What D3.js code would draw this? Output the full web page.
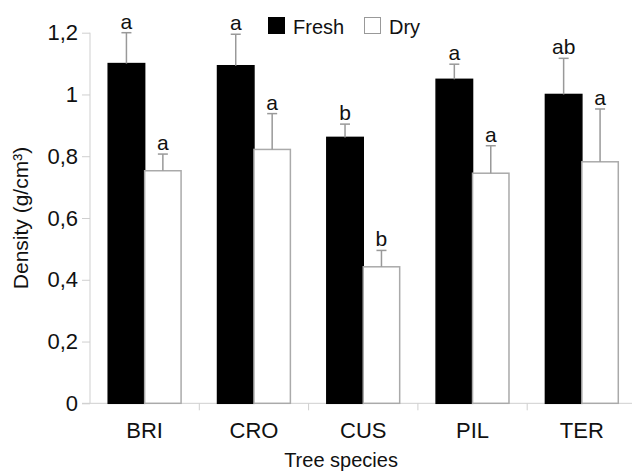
<!DOCTYPE html>
<html>
<head>
<meta charset="utf-8">
<script src="https://cdn.jsdelivr.net/npm/d3@7"></script>
<style>
  body { margin: 0; background: #fff; }
  text { font-family: "Liberation Sans", Arial, sans-serif; fill: #111; }
</style>
</head>
<body>
<div id="chart"></div>
<script>

// Data
var species = ["BRI", "CRO", "CUS", "PIL", "TER"];
var treatments = ["Fresh", "Dry"];
var freshMean = [1.10, 1.093, 0.861, 1.049, 1.00];
var freshErr  = [0.10, 0.102, 0.043, 0.049, 0.117];
var dryMean   = [0.753, 0.822, 0.442, 0.745, 0.782];
var dryErr    = [0.054, 0.116, 0.053, 0.089, 0.171];
var freshLetters = ["a", "a", "b", "a", "ab"];
var dryLetters   = ["a", "a", "b", "a", "a"];
var yTicks = [0, 0.2, 0.4, 0.6, 0.8, 1, 1.2];

var width = 632, height = 473;
var margin = { top: 32.7, left: 90, bottom: 69.7 };
var step = 109.3;

var svg = d3.select("#chart").append("svg")
    .attr("width", width)
    .attr("height", height);

// Scales
var x = d3.scaleBand()
    .domain(species)
    .range([margin.left, margin.left + step * species.length])
    .padding(0);

var x1 = d3.scaleBand()
    .domain(treatments)
    .range([0, x.bandwidth()])
    .paddingInner(0)
    .paddingOuter(0.5);

var y = d3.scaleLinear()
    .domain([0, 1.2])
    .range([height - margin.bottom, margin.top]);

var commaFormat = d3.formatLocale({ decimal: ",", thousands: ".", grouping: [3], currency: ["", ""] }).format("~g");

// Build rows
var rows = [];
species.forEach(function (s, i) {
    rows.push({ sp: s, t: "Fresh", v: freshMean[i], e: freshErr[i], l: freshLetters[i] });
    rows.push({ sp: s, t: "Dry", v: dryMean[i], e: dryErr[i], l: dryLetters[i] });
});

// Y axis
var yAxis = d3.axisLeft(y)
    .tickValues(yTicks)
    .tickFormat(commaFormat)
    .tickSize(8)
    .tickPadding(4);

var gy = svg.append("g")
    .attr("transform", "translate(" + margin.left + ",0)")
    .call(yAxis);
gy.select(".domain").attr("stroke", "#cfcfcf").attr("d", "M0," + y(0) + "V" + y(1.2));
gy.selectAll(".tick line").attr("stroke", "#cfcfcf");
gy.selectAll(".tick text")
    .attr("font-size", 22)
    .attr("font-family", "Liberation Sans, Arial, sans-serif")
    .attr("fill", "#111");

// X axis
var gx = svg.append("g")
    .attr("transform", "translate(0," + y(0) + ")");
gx.append("line")
    .attr("x1", margin.left - 8)
    .attr("x2", width)
    .attr("stroke", "#cfcfcf");
gx.selectAll(".sep")
    .data(species.slice(1))
    .enter().append("line")
    .attr("class", "sep")
    .attr("x1", function (d) { return x(d); })
    .attr("x2", function (d) { return x(d); })
    .attr("y1", 0)
    .attr("y2", 7)
    .attr("stroke", "#cfcfcf");
gx.selectAll(".cat")
    .data(species)
    .enter().append("text")
    .attr("class", "cat")
    .attr("x", function (d) { return x(d) + x.bandwidth() / 2; })
    .attr("y", 35)
    .attr("text-anchor", "middle")
    .attr("font-size", 22)
    .text(function (d) { return d; });

// Bars
svg.selectAll(".bar")
    .data(rows)
    .enter().append("rect")
    .attr("class", "bar")
    .attr("x", function (d) { return x(d.sp) + x1(d.t); })
    .attr("width", x1.bandwidth())
    .attr("y", function (d) { return y(d.v); })
    .attr("height", function (d) { return y(0) - y(d.v); })
    .attr("fill", function (d) { return d.t === "Fresh" ? "#000" : "#fff"; })
    .attr("stroke", function (d) { return d.t === "Fresh" ? "#000" : "#aaa"; })
    .attr("stroke-width", 1.5);

// Error bars
var cx = function (d) { return x(d.sp) + x1(d.t) + x1.bandwidth() / 2; };
svg.selectAll(".err")
    .data(rows)
    .enter().append("line")
    .attr("class", "err")
    .attr("x1", cx).attr("x2", cx)
    .attr("y1", function (d) { return y(d.v); })
    .attr("y2", function (d) { return y(d.v + d.e); })
    .attr("stroke", "#999")
    .attr("stroke-width", 1.5);
svg.selectAll(".cap")
    .data(rows)
    .enter().append("line")
    .attr("class", "cap")
    .attr("x1", function (d) { return cx(d) - 5; })
    .attr("x2", function (d) { return cx(d) + 5; })
    .attr("y1", function (d) { return y(d.v + d.e); })
    .attr("y2", function (d) { return y(d.v + d.e); })
    .attr("stroke", "#999")
    .attr("stroke-width", 1.5);

// Significance letters
svg.selectAll(".sig")
    .data(rows)
    .enter().append("text")
    .attr("class", "sig")
    .attr("x", cx)
    .attr("y", function (d) { return y(d.v + d.e) - 4; })
    .attr("text-anchor", "middle")
    .attr("font-size", 21)
    .text(function (d) { return d.l; });

// Legend
var legend = svg.append("g").attr("transform", "translate(268,17)");
var lx = [0, 96];
treatments.forEach(function (t, i) {
    legend.append("rect")
        .attr("x", lx[i] + 0.5)
        .attr("y", 0.5)
        .attr("width", 16)
        .attr("height", 16)
        .attr("fill", t === "Fresh" ? "#000" : "#fff")
        .attr("stroke", t === "Fresh" ? "#000" : "#999");
    legend.append("text")
        .attr("x", lx[i] + 25)
        .attr("y", 17)
        .attr("font-size", 20)
        .text(t);
});

// Axis titles
svg.append("text")
    .attr("transform", "translate(28," + (y(0.6)) + ") rotate(-90)")
    .attr("text-anchor", "middle")
    .attr("font-size", 21)
    .text("Density (g/cm³)");

svg.append("text")
    .attr("x", 341)
    .attr("y", 467)
    .attr("text-anchor", "middle")
    .attr("font-size", 20)
    .text("Tree species");

</script>
</body>
</html>
